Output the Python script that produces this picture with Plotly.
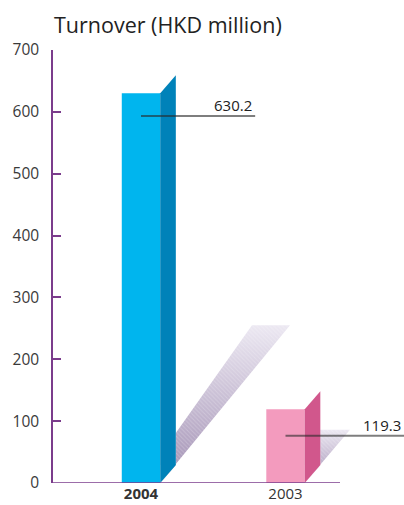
import plotly.graph_objects as go

# ---- data ----
years = ["2004", "2003"]
turnover = [630.2, 119.3]
year_labels = ["<b>2004</b>", "2003"]
y_ticks = [0, 100, 200, 300, 400, 500, 600, 700]

front_colors = ["#00B5EE", "#F39BBE"]
side_colors = ["#0082B9", "#D1578C"]
purple = "#7B3C8C"

# geometry (in axis units)
bar_w = 0.266
side_w = 0.108
rise = 29
shadow_h = [255, 86]
shadow_geo = [(0.768, 1.031, 81), (0.239, 0.446, 30)]
label_offsets = [-37, -43]
ends = [0.79, 0.82]

xs = list(range(len(years)))
fig = go.Figure()

# shadows (gradient + faint hatching)
for i, v in enumerate(turnover):
    l, r, hit = shadow_geo[i]
    h = shadow_h[i]
    x0 = i + bar_w / 2
    x1 = x0 + side_w
    px = [x0, i + r, i + l, x1, x1, x0]
    py = [0, h, h, hit, rise, 0]
    fig.add_trace(go.Scatter(
        x=px, y=py, mode="lines", line=dict(width=0), fill="toself",
        fillgradient=dict(type="vertical",
                          colorscale=[[0, "rgb(160,142,178)"], [1, "rgb(236,232,242)"]]),
        hoverinfo="skip", showlegend=False))
    fig.add_trace(go.Scatter(
        x=px, y=py, mode="lines", line=dict(width=0), fill="toself",
        fillcolor="rgba(0,0,0,0)",
        fillpattern=dict(shape="\\", fgcolor="rgba(255,255,255,0.45)", bgcolor="rgba(0,0,0,0)",
                         size=3, solidity=0.3),
        hoverinfo="skip", showlegend=False))

# front faces
fig.add_trace(go.Bar(x=xs, y=turnover, width=bar_w, marker=dict(color=front_colors, line=dict(width=0)),
                     showlegend=False, hoverinfo="skip"))

# side faces (parallelograms)
for i, v in enumerate(turnover):
    x0 = i + bar_w / 2
    x1 = x0 + side_w
    fig.add_trace(go.Scatter(
        x=[x0, x0, x1, x1, x0], y=[0, v, v + rise, rise, 0],
        mode="lines", line=dict(width=0), fill="toself", fillcolor=side_colors[i],
        hoverinfo="skip", showlegend=False))

# label lines + text
for i, v in enumerate(turnover):
    yl = v + label_offsets[i]
    fig.add_shape(type="line", xref="x", yref="y", x0=i, x1=i + ends[i],
                  y0=yl, y1=yl, line=dict(color="rgba(40,40,40,0.6)", width=2), layer="above")
    fig.add_annotation(x=i + ends[i] - 0.005, y=yl + 18, text=f"{v:.1f}",
                       xanchor="right", yanchor="middle", showarrow=False,
                       font=dict(family="Open Sans", size=15, color="#222222"))

# baseline
fig.add_shape(type="line", xref="paper", yref="y", x0=0, x1=(340 - 53) / 351, y0=0, y1=0,
              line=dict(color=purple, width=1.5), layer="above")

fig.add_annotation(xref="paper", yref="paper", x=0, y=1, xshift=-1, yshift=26,
                   text="Turnover (HKD million)", xanchor="left", yanchor="middle",
                   showarrow=False, font=dict(family="Open Sans", size=21.5, color="#222222"))

fig.update_layout(
    width=404, height=505,
    margin=dict(l=53, r=0, t=50, b=22),
    paper_bgcolor="white", plot_bgcolor="white",
    xaxis=dict(range=[-0.609, 1.82], tickvals=xs, ticktext=year_labels, showgrid=False,
               zeroline=False, showline=False, ticks="",
               tickfont=dict(family="Open Sans", size=15, color="#333333")),
    yaxis=dict(range=[0, 700], tickvals=y_ticks, showgrid=False, zeroline=False,
               showline=True, linecolor=purple, linewidth=1.5,
               ticks="inside", ticklen=8, tickcolor=purple, tickwidth=1.5,
               ticklabelstandoff=9,
               tickfont=dict(family="Open Sans", size=15.5, color="#3a3a3a")),
)

fig.write_html("out.html")
